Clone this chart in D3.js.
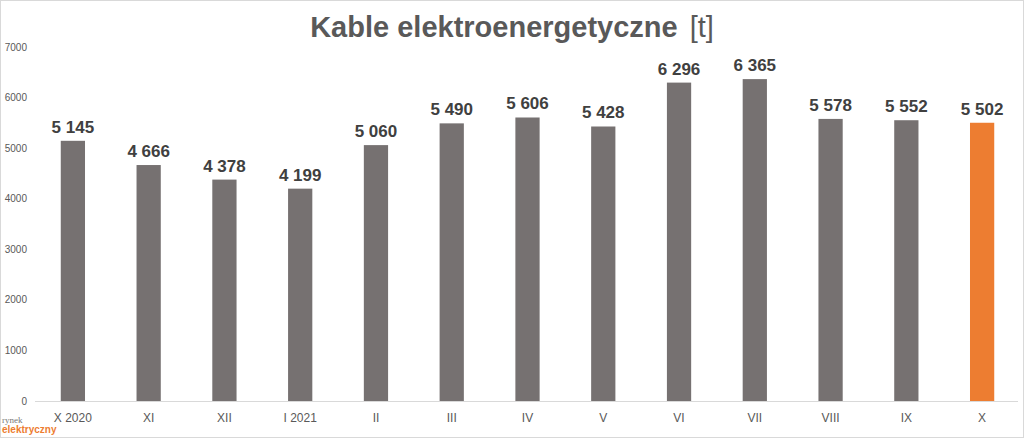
<!DOCTYPE html>
<html><head><meta charset="utf-8">
<script src="https://cdn.jsdelivr.net/npm/d3@7"></script>
<style>body{margin:0;background:#fff}svg{display:block}</style></head>
<body><svg id="c" width="1024" height="438"></svg>
<script>
const categories=["X 2020","XI","XII","I 2021","II","III","IV","V","VI","VII","VIII","IX","X"];
const values=[5145,4666,4378,4199,5060,5490,5606,5428,6296,6365,5578,5552,5502];
const yTicks=[0,1000,2000,3000,4000,5000,6000,7000];
const svg=d3.select("#c");
svg.append("rect").attr("x",0.5).attr("y",0.5).attr("width",1023).attr("height",437).attr("fill","#fff").attr("stroke","#d9d9d9");
const x=d3.scaleBand().domain(categories).range([35,1020]).paddingInner(0.68).paddingOuter(0.34);
const y=d3.scaleLinear().domain([0,7000]).range([401,47]);
const fmt=v=>d3.format(",")(v).replace(/,/g," ");
svg.append("g").selectAll("text").data(yTicks).join("text")
 .attr("x",27).attr("y",d=>y(d)+3.5).attr("text-anchor","end")
 .attr("font-family","Liberation Sans, Arial").attr("font-size",10).attr("fill","#595959").text(d=>d);
svg.append("line").attr("x1",35).attr("x2",1018).attr("y1",401.5).attr("y2",401.5).attr("stroke","#d9d9d9");
svg.append("g").selectAll("rect").data(values).join("rect")
 .attr("x",(d,i)=>x(categories[i])).attr("width",x.bandwidth())
 .attr("y",d=>y(d)).attr("height",d=>401-y(d))
 .attr("fill",(d,i)=>i===values.length-1?"#ed7d31":"#767171");
svg.append("g").selectAll("text").data(values).join("text")
 .attr("x",(d,i)=>x(categories[i])+x.bandwidth()/2).attr("y",d=>y(d)-8)
 .attr("text-anchor","middle").attr("font-family","Liberation Sans Narrow, Arial Narrow, sans-serif")
 .attr("font-weight","bold").attr("font-size",17).attr("fill","#404040").text(fmt);
svg.append("g").selectAll("text").data(categories).join("text")
 .attr("x",d=>x(d)+x.bandwidth()/2).attr("y",422).attr("text-anchor","middle")
 .attr("font-family","Liberation Sans, Arial").attr("font-size",12).attr("fill","#595959").text(d=>d);
const t=svg.append("text").attr("x",512).attr("y",37).attr("text-anchor","middle")
 .attr("font-family","Liberation Sans Narrow, Arial Narrow, sans-serif").attr("font-size",29).attr("fill","#595959");
t.append("tspan").attr("font-weight","bold").text("Kable elektroenergetyczne");
t.append("tspan").attr("dx",12).text("[t]");
svg.append("text").attr("x",2).attr("y",423).attr("font-family","Liberation Serif, serif").attr("font-size",9).attr("fill","#777").text("rynek");
svg.append("text").attr("x",2).attr("y",433).attr("font-family","Liberation Sans, Arial").attr("font-weight","bold").attr("font-size",10).attr("fill","#ed7d31").text("elektryczny");
</script></body></html>
